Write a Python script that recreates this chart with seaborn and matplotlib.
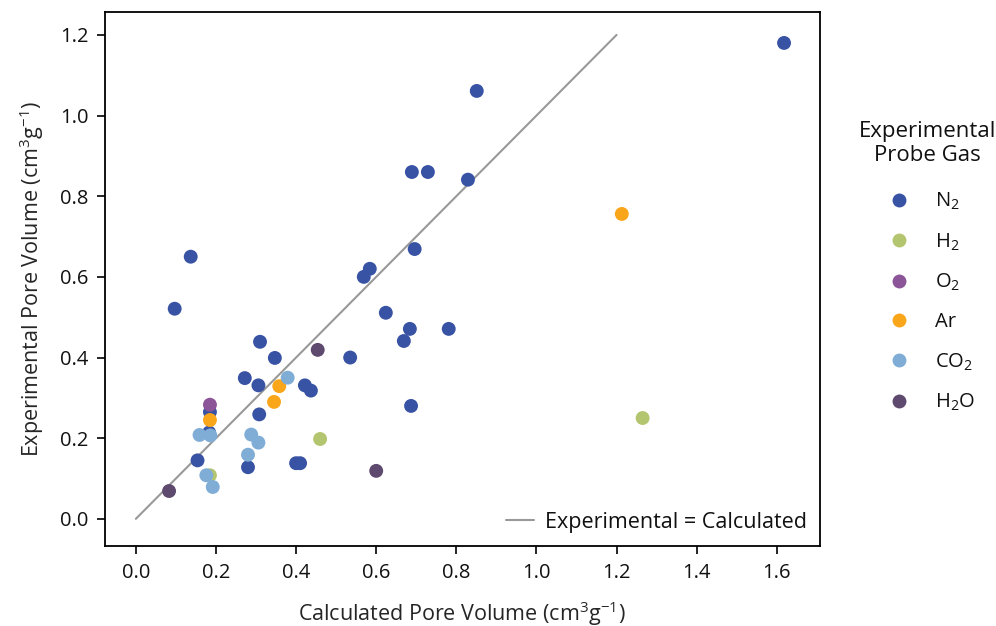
import numpy as np
import pandas as pd
import seaborn as sns
import matplotlib.pyplot as plt
from matplotlib.lines import Line2D

# calculated vs experimental pore volume (cm3/g), grouped by probe gas
n2_calc = [1.618, 0.851, 0.689, 0.729, 0.829, 0.696, 0.137, 0.584, 0.569, 0.097,
           0.624, 0.684, 0.781, 0.669, 0.310, 0.347, 0.272, 0.306, 0.422, 0.437,
           0.308, 0.185, 0.183, 0.154, 0.280, 0.400, 0.410, 0.687, 0.535]
n2_exp = [1.180, 1.061, 0.860, 0.860, 0.841, 0.669, 0.650, 0.620, 0.600, 0.521,
          0.511, 0.471, 0.471, 0.441, 0.439, 0.399, 0.349, 0.331, 0.331, 0.318,
          0.259, 0.265, 0.214, 0.145, 0.128, 0.138, 0.138, 0.280, 0.400]
h2_calc = [0.185, 0.460, 1.265]
h2_exp = [0.108, 0.198, 0.250]
o2_calc = [0.185]
o2_exp = [0.283]
ar_calc = [0.185, 0.358, 0.345, 1.213]
ar_exp = [0.245, 0.329, 0.290, 0.756]
co2_calc = [0.159, 0.186, 0.379, 0.288, 0.306, 0.280, 0.176, 0.192]
co2_exp = [0.208, 0.207, 0.350, 0.209, 0.189, 0.159, 0.108, 0.079]
h2o_calc = [0.083, 0.454, 0.600]
h2o_exp = [0.069, 0.419, 0.119]

gases = ['N2', 'H2', 'O2', 'Ar', 'CO2', 'H2O']
gas_labels = [r'$\mathregular{N_2}$', r'$\mathregular{H_2}$', r'$\mathregular{O_2}$',
              'Ar', r'$\mathregular{CO_2}$', r'$\mathregular{H_2O}$']
colors = ['#3953A4', '#B3C56F', '#8B5597', '#FAA61A', '#7FADD6', '#5E4A6E']

calc = [n2_calc, h2_calc, o2_calc, ar_calc, co2_calc, h2o_calc]
exp = [n2_exp, h2_exp, o2_exp, ar_exp, co2_exp, h2o_exp]
frames = [pd.DataFrame({'calc': c, 'exp': e, 'gas': g}) for c, e, g in zip(calc, exp, gases)]
df = pd.concat(frames, ignore_index=True)

sns.set_style('ticks')
plt.rcParams['font.family'] = ['Open Sans', 'DejaVu Sans']
plt.rcParams['text.color'] = '#111111'

fig = plt.figure(figsize=(9.96, 6.26), dpi=100)
ax = fig.add_axes([0.1054, 0.128, 0.7176, 0.853])

ax.plot([0, 1.2], [0, 1.2], color='#999999', linewidth=1.5, zorder=1,
        label='Experimental = Calculated')
sns.scatterplot(data=df, x='calc', y='exp', hue='gas', hue_order=gases,
                palette=dict(zip(gases, colors)), s=100, linewidth=0,
                ax=ax, legend=False, zorder=3)

ax.set_xlim(-0.077, 1.707)
ax.set_ylim(-0.067, 1.257)
ax.set_xticks(np.arange(0, 1.61, 0.2))
ax.set_yticks(np.arange(0, 1.21, 0.2))
ax.xaxis.set_major_formatter(plt.FormatStrFormatter('%.1f'))
ax.yaxis.set_major_formatter(plt.FormatStrFormatter('%.1f'))
ax.tick_params(labelsize=14.5, length=6, width=1.2, color='black', pad=6,
               labelcolor='#111111')
for sp in ax.spines.values():
    sp.set_linewidth(1.3)
    sp.set_color('black')
ax.set_xlabel(r'Calculated Pore Volume (cm$^{\mathregular{3}}$g$^{\mathregular{-1}}$)',
              fontsize=15.5, labelpad=12)
ax.set_ylabel(r'Experimental Pore Volume (cm$^{\mathregular{3}}$g$^{\mathregular{-1}}$)',
              fontsize=15.5, labelpad=10)

ax.legend(loc='lower right', frameon=False, fontsize=15.5, handlelength=1.3,
          handletextpad=0.5, borderaxespad=0.2)

handles = [Line2D([], [], marker='o', linestyle='none', markersize=10,
                  markerfacecolor=c, markeredgewidth=0) for c in colors]
leg = fig.legend(handles, gas_labels, title='Experimental\nProbe Gas',
                 loc='upper center', bbox_to_anchor=(0.931, 0.836), frameon=False,
                 fontsize=14.5, title_fontsize=16, labelspacing=0.95,
                 handletextpad=0.8)
leg.get_title().set_multialignment('center')
leg._legend_box.sep = 18

fig.savefig('out.png', dpi=100)
